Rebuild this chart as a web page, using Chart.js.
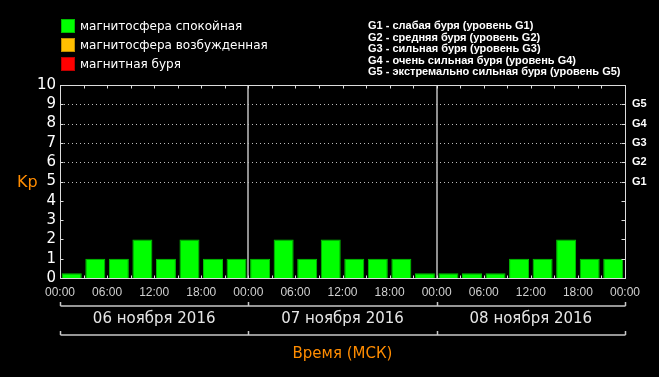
<!DOCTYPE html>
<html>
<head>
<meta charset="utf-8">
<script src="https://cdn.jsdelivr.net/npm/chart.js@4/dist/chart.umd.min.js"></script>
<style>
  html, body { margin: 0; padding: 0; background: #000; }
  #wrap { position: relative; width: 659px; height: 377px; overflow: hidden; }
  #c { position: absolute; left: 0; top: 0; }
  .key { position: absolute; left: 61px; height: 14px; font: 12px "DejaVu Sans"; color: #fff; line-height: 14px; }
  .key i { position: absolute; left: 0; top: 0; width: 12px; height: 12px; border: 1px solid rgba(0,0,0,0.25); }
  .key span { position: absolute; left: 19px; top: 0; white-space: nowrap; }
  #storms { position: absolute; left: 368px; top: 20px; font: bold 11px "Liberation Sans"; color: #fff; line-height: 11.5px; white-space: pre; }
  #kp { position: absolute; left: 17px; top: 172px; font: 16px "DejaVu Sans"; color: #ff8c00; }
</style>
</head>
<body>
<div id="wrap">
  <canvas id="c" width="659" height="377"></canvas>
  <div id="keys"></div>
  <div id="storms"></div>
  <div id="kp">Kp</div>
</div>
<script>
// ===== Kp index, 06-08 Nov 2016 =====
const days = ['06 ноября 2016', '07 ноября 2016', '08 ноября 2016'];
const slotHours = ['00:00', '03:00', '06:00', '09:00', '12:00', '15:00', '18:00', '21:00'];
const kpValues = [
    0.25, 1, 1, 2, 1, 2, 1, 1,
    1, 2, 1, 2, 1, 1, 1, 0.25,
    0.25, 0.25, 0.25, 1, 1, 2, 1, 1
];
const stormLevels = ['G1', 'G2', 'G3', 'G4', 'G5'];   // Kp 5..9
const stormNotes = [
    'G1 - слабая буря (уровень G1)',
    'G2 - средняя буря (уровень G2)',
    'G3 - сильная буря (уровень G3)',
    'G4 - очень сильная буря (уровень G4)',
    'G5 - экстремально сильная буря (уровень G5)'
];
const keyLabels = ['магнитосфера спокойная', 'магнитосфера возбужденная', 'магнитная буря'];
const keyColors = ['#00ff00', '#ffbf00', '#ff0000'];

// legends (html)
const keys = document.getElementById('keys');
keyLabels.forEach((t, i) => {
    const d = document.createElement('div');
    d.className = 'key';
    d.style.top = (19 + i * 19) + 'px';
    d.innerHTML = `<i style="background:${keyColors[i]}"></i><span>${t}</span>`;
    keys.appendChild(d);
});
document.getElementById('storms').textContent = stormNotes.join('\n');

const slots = days.flatMap(d => slotHours.map(h => d + ' ' + h));
const hh = v => String(v % 24).padStart(2, '0') + ':00';

const framePlugin = {
    id: 'frame',
    beforeDatasetsDraw(chart) {
        const { ctx, chartArea: a, scales: { y } } = chart;
        ctx.save();
        ctx.strokeStyle = '#bdbdbd';
        ctx.lineWidth = 1;
        ctx.setLineDash([1, 3]);
        for (let v = 5; v <= 9; v++) {
            const py = Math.round(y.getPixelForValue(v)) + 0.5;
            ctx.beginPath(); ctx.moveTo(a.left + 4, py); ctx.lineTo(a.right, py); ctx.stroke();
        }
        ctx.restore();
    },
    afterDraw(chart) {
        const { ctx, chartArea: a, scales: { y, hours } } = chart;
        const L = Math.round(a.left) + 0.5, R = Math.round(a.right) + 0.5;
        const T = Math.round(a.top) + 0.5, B = Math.round(a.bottom) + 0.5;
        ctx.save();
        ctx.strokeStyle = '#dcdcdc';
        ctx.lineWidth = 1;
        ctx.strokeRect(L, T, R - L, B - T);
        ctx.beginPath();
        for (let v = 0; v <= 10; v++) {
            const py = Math.round(y.getPixelForValue(v)) + 0.5;
            ctx.moveTo(L, py); ctx.lineTo(L + 3, py);
            ctx.moveTo(R, py); ctx.lineTo(R - 4, py);
        }
        for (let h = 3; h < 72; h += 3) {
            const px = Math.round(hours.getPixelForValue(h)) + 0.5;
            ctx.moveTo(px, T); ctx.lineTo(px, T + 3);
            ctx.moveTo(px, B); ctx.lineTo(px, B - 3);
        }
        ctx.stroke();
        // day brackets under the time labels
        ctx.strokeStyle = '#c8c8c8';
        ctx.lineWidth = 1.5;
        [306, 335].forEach(by => {
            ctx.beginPath();
            ctx.moveTo(L, by); ctx.lineTo(R, by);
            for (let h = 0; h <= 72; h += 24) {
                const px = Math.round(hours.getPixelForValue(h)) + 0.5;
                ctx.moveTo(px, by); ctx.lineTo(px, by - 4);
            }
            ctx.stroke();
        });
        ctx.restore();
    }
};

const ctx = document.getElementById('c').getContext('2d');
new Chart(ctx, {
    type: 'bar',
    data: { labels: slots, datasets: [
        { data: kpValues, backgroundColor: '#00ff00', borderColor: '#00c400', borderWidth: 1,
          barPercentage: 0.85, categoryPercentage: 1, xAxisID: 'x', yAxisID: 'y' }
    ]},
    options: { responsive: false, animation: false,
        layout: { padding: { top: 85, left: 0, right: 0, bottom: 0 } },
        plugins: { legend: { display: false }, tooltip: { enabled: false } },
        scales: {
            x: { display: false, offset: true },
            hours: { type: 'linear', position: 'bottom', weight: 0, min: 0, max: 72, offset: false,
                afterFit: s => { s.height = 28; },
                ticks: { stepSize: 6, autoSkip: false, maxRotation: 0, padding: 7, color: '#d0d0d0',
                    font: { family: 'Liberation Sans', size: 12 }, callback: v => hh(v) },
                grid: { offset: false, drawTicks: false, lineWidth: 2,
                    color: c => (c.tick && c.tick.value % 24 === 0 && c.tick.value > 0 && c.tick.value < 72) ? '#909090' : 'rgba(0,0,0,0)' },
                border: { display: false } },
            days: { type: 'category', labels: days, position: 'bottom', weight: 1, offset: true,
                afterFit: s => { s.height = 71; },
                grid: { display: false, drawTicks: false }, border: { display: false },
                ticks: { padding: 4, color: '#e6e6e6', font: { family: 'DejaVu Sans', size: 15 } },
                title: { display: true, text: 'Время (МСК)', color: '#ff8c00',
                    font: { family: 'DejaVu Sans', size: 15 }, padding: { top: 0, bottom: 14 } } },
            y: { position: 'left', min: 0, max: 10,
                afterFit: s => { s.width = 60; },
                ticks: { stepSize: 1, autoSkip: false, padding: 4, color: '#ffffff', font: { family: 'DejaVu Sans', size: 15 } },
                grid: { display: false, drawTicks: false }, border: { display: false } },
            y2: { position: 'right', min: 0, max: 10,
                afterFit: s => { s.width = 34; },
                ticks: { stepSize: 1, autoSkip: false, padding: 7, color: '#ffffff',
                    font: { family: 'Liberation Sans', size: 11, weight: 'bold' },
                    callback: v => stormLevels[v - 5] || '' },
                grid: { display: false, drawTicks: false }, border: { display: false } }
        }
    },
    plugins: [framePlugin]
});
</script>
</body>
</html>
